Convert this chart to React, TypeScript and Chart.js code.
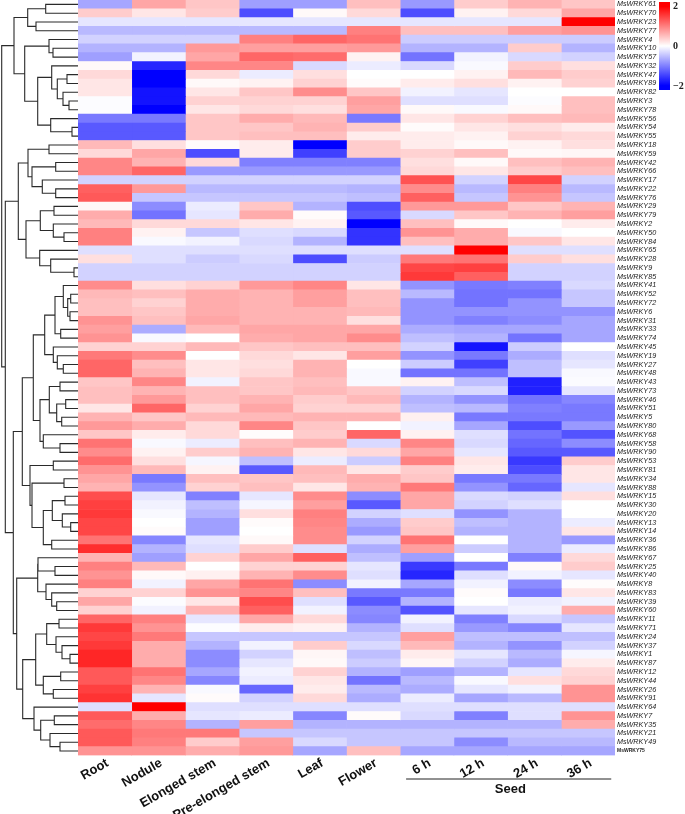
import React, { useEffect, useRef } from "react";
import { Chart, registerables } from "chart.js";

Chart.register(...registerables);

const columnLabels = ["Root", "Nodule", "Elonged stem", "Pre-elonged stem", "Leaf", "Flower", "6 h", "12 h", "24 h", "36 h"];
const groupLabel = "Seed";

const geneNumbers = [61, 70, 23, 77, 4, 10, 57, 32, 47, 89, 82, 3, 78, 56, 54, 55, 18, 59, 42, 66, 17, 22, 76, 29, 79, 2, 50, 84, 65, 28, 9, 85, 41, 52, 72, 6, 31, 33, 74, 45, 19, 27, 48, 43, 73, 46, 51, 5, 80, 68, 58, 90, 53, 81, 34, 88, 15, 30, 20, 13, 14, 36, 86, 67, 25, 40, 8, 83, 39, 60, 11, 71, 24, 37, 1, 87, 12, 44, 26, 91, 64, 7, 35, 21, 49, 75];
const rowLabels = geneNumbers.map((n) => "MsWRKY" + n);

// expression z-scores, one row per gene, in columnLabels order
const expression: number[][] = [
  [-0.7, 0.7, 0.45, -0.75, -0.75, 0.5, -0.8, 0.4, 0.6, 0.45],
  [0.4, 0.2, 0.4, -1.4, 0.05, 0.3, -1.4, 0.1, 0.3, 0.7],
  [-0.2, -0.2, -0.2, -0.2, -0.2, -0.2, -0.2, -0.2, -0.2, 2],
  [-0.55, -0.55, -0.55, -0.55, -0.55, 1.0, 0.5, 0.5, 0.75, 0.85],
  [-0.35, -0.35, -0.35, 1.0, 1.2, 1.1, -0.4, -0.4, -0.4, -0.4],
  [-0.6, -0.6, 0.8, 0.75, 0.75, 0.8, -0.6, -0.6, 0.4, -0.6],
  [-0.75, -0.1, 0.7, 1.2, 1.15, 0.1, -1.1, -0.1, -0.3, -0.35],
  [0.05, -1.7, 0.95, 0.95, -0.3, -0.15, -0.3, -0.05, 0.4, 0.25],
  [0.3, -2, 0.3, -0.15, 0.25, 0, 0, 0.1, 0.55, 0.4],
  [0.2, -2, 0.05, 0.1, 0.35, 0.03, 0.15, 0.25, 0.1, 0.35],
  [0.2, -1.85, 0.2, 0.45, 0.9, 0.45, -0.1, -0.2, 0, 0],
  [-0.02, -1.85, 0.35, 0.35, 0.35, 0.75, -0.25, -0.25, -0.02, 0.5],
  [-0.02, -2, 0.2, 0.3, 0.25, 0.7, 0.05, -0.05, 0.05, 0.5],
  [-1.05, -1.05, 0.45, 0.65, 0.55, -1.05, 0.2, 0.35, 0.5, 0.55],
  [-1.3, -1.3, 0.45, 0.45, 0.6, 0.4, 0.03, 0.2, 0.25, 0.15],
  [-1.3, -1.3, 0.45, 0.5, 0.5, 0.15, 0.15, 0.1, 0.35, 0.3],
  [0.55, 0.25, 0.03, 0.15, -2, 0.4, 0.15, 0.05, 0.1, 0.25],
  [0.3, 0.7, -1.4, 0.15, -1.5, 0.4, 0.35, 0.5, 0.05, 0.07],
  [0.95, 0.6, 0.3, -1.0, -1.0, -1.0, 0.25, 0.05, 0.5, 0.6],
  [0.95, 1.2, -0.8, -0.8, -0.8, -0.8, 0.3, 0.2, 0.4, 0.5],
  [-0.35, -0.35, -0.35, -0.35, -0.35, -0.35, 1.35, -0.35, 1.45, -0.35],
  [1.25, 0.8, -0.55, -0.55, -0.55, -0.6, 0.9, -0.55, 1.0, -0.55],
  [1.3, -0.45, -0.45, -0.45, -0.45, -0.5, 1.25, -0.45, 0.85, -0.45],
  [0.07, -0.9, -0.15, 0.45, -0.6, -1.4, 0.8, 0.8, 0.45, 0.6],
  [0.65, -1.1, -0.2, 0.65, 0.03, -1.3, -0.3, 0.45, 0.6, 0.75],
  [0.55, 0.3, 0.3, 0.2, 0.1, -2, 0.5, 0.05, 0, 0.15],
  [1.0, 0.1, -0.45, -0.25, -0.3, -1.6, 0.85, 0.65, -0.05, 0],
  [1.0, -0.05, -0.1, -0.3, -0.6, -1.6, 0.5, 0.65, 0.45, 0.2],
  [-0.25, -0.25, -0.25, -0.25, -0.25, -0.25, -0.25, 2, -0.25, -0.25],
  [0.25, -0.25, -0.4, -0.3, -1.4, -0.4, 1.05, 1.1, 0.4, 0.25],
  [-0.35, -0.35, -0.35, -0.35, -0.35, -0.35, 1.45, 1.5, -0.35, -0.35],
  [-0.35, -0.35, -0.35, -0.35, -0.35, -0.35, 1.55, 1.25, -0.35, -0.35],
  [0.9, 0.25, 0.35, 0.8, 0.95, 0.2, -0.85, -1.05, -1.0, -0.3],
  [0.55, 0.5, 0.65, 0.6, 0.75, 0.5, -0.55, -1.1, -1.1, -0.45],
  [0.5, 0.35, 0.65, 0.6, 0.75, 0.5, -0.85, -1.1, -0.85, -0.45],
  [0.5, 0.45, 0.65, 0.6, 0.6, 0.55, -0.85, -0.85, -0.85, -0.85],
  [0.85, 0.5, 0.7, 0.6, 0.6, 0.25, -0.85, -1.0, -0.9, -0.7],
  [0.75, -0.65, 0.55, 0.7, 0.7, 0.7, -0.65, -0.7, -0.7, -0.7],
  [0.85, -0.05, 0, 0.65, 0.7, 0.9, -0.5, -0.6, -1.1, -0.7],
  [0.35, 0.35, 0.55, 0.45, 0.5, 0.5, -0.35, -1.85, -0.4, 0],
  [1.05, 0.9, 0, 0.3, 0.2, 0.75, -0.85, -1.05, -0.65, -0.25],
  [1.2, 0.5, 0.2, 0.25, 0.6, 0, -0.4, -1.5, -0.5, -0.2],
  [1.2, 0.6, 0.2, 0.3, 0.6, -0.05, -1.1, -1.1, -0.5, -0.05],
  [0.45, 0.95, -0.1, 0.45, 0.5, -0.05, 0.1, -0.5, -1.75, -0.03],
  [0.5, 0.6, 0.5, 0.45, 0.55, 0.45, -0.35, -0.3, -1.75, -0.2],
  [0.5, 0.8, 0.5, 0.6, 0.4, 0.55, -0.6, -0.85, -1.1, -0.95],
  [0.2, 1.2, 0.35, 0.7, 0.35, 0.35, -0.5, -0.55, -1.0, -1.05],
  [0.6, 0.45, 0.55, 0.55, 0.6, 0.6, 0.12, -1.05, -1.05, -1.05],
  [0.8, 0.65, 0.3, 0.95, 0.45, 0, -0.1, -0.7, -1.4, -0.8],
  [0.45, 0.15, 0.3, 0.02, 0.4, 1.2, 0.1, -0.25, -1.1, -1.35],
  [1.1, -0.05, -0.15, 0.5, 0.6, -0.3, 0.95, -0.3, -1.2, -0.9],
  [0.9, 0.1, 0.4, 0.6, 0.2, 0.3, 0.7, -0.2, -1.3, -1.3],
  [1.15, 0.25, -0.07, -0.5, -0.15, -0.4, 1.0, 0.2, -1.55, 0.4],
  [0.85, 0.55, 0.1, -1.3, 0.55, 0.2, 0.4, 0.15, -1.4, 0.2],
  [0.7, -1.05, 0.5, 0.45, 0.5, 0.65, 0.45, -1.05, -1.05, 0.2],
  [0.6, -0.85, 0.35, 0.5, 0.2, 0.6, 1.05, -0.85, -1.2, -0.2],
  [1.4, -0.2, -1.0, -0.2, 0.9, -0.9, 0.7, -0.3, -0.35, 0.25],
  [1.5, -0.1, -0.5, -0.07, 0.75, -1.3, 0.7, -0.35, -0.25, 0],
  [1.55, -0.05, -0.6, 0.25, 1.0, -0.35, -0.25, -0.85, -0.6, 0],
  [1.45, 0, -0.75, 0.03, 0.95, -0.65, 0.4, -0.5, -0.6, -0.15],
  [1.45, 0.03, -0.75, 0, 0.9, -0.8, 0.45, -0.6, -0.6, 0.2],
  [1.1, -0.95, -0.2, 0.05, 0.9, -0.35, 1.1, 0, -0.6, -0.8],
  [1.65, -0.6, -0.25, 0.4, -0.25, -0.65, 0.75, -0.4, -0.6, -0.15],
  [0.6, -0.75, 0.35, 0.7, 1.25, -0.5, -0.75, 0, -1.0, 0.3],
  [1.0, 0.55, 0, 0.35, 0.35, -0.2, -1.55, -1.05, 0.05, 0.4],
  [0.85, 0.05, 0.12, 0.6, 0.9, -0.25, -1.7, -0.25, -0.1, -0.2],
  [1.0, -0.1, 0.7, 1.1, -0.9, -0.1, -0.7, -0.1, -0.9, 0.02],
  [0.35, 0.35, 0.85, 0.95, 0.5, -1.05, -1.05, 0.03, -1.05, 0.2],
  [0.7, -0.02, 0.2, 1.4, -0.25, -1.3, -0.6, 0, -0.15, -0.1],
  [0.35, -0.1, 0.6, 1.25, -0.1, -0.9, -1.35, -0.2, -0.1, 0.65],
  [1.2, 1.0, -0.2, 0.7, 0.3, -0.95, -0.1, -1.0, -0.3, -0.45],
  [1.55, 0.85, -0.02, 0.15, 0.1, -0.6, -0.25, -0.8, -0.95, -0.2],
  [1.45, 1.05, -0.45, -0.45, -0.45, -0.45, 0.75, -0.5, -0.5, -0.5],
  [1.55, 0.65, -0.6, -0.1, 0.4, -0.3, 0.55, -0.6, -0.85, -0.35],
  [1.7, 0.65, -0.9, -0.35, 0.07, -0.5, 0.15, -0.2, -0.55, -0.07],
  [1.7, 0.65, -0.9, -0.2, 0.05, -0.4, 0.07, -0.35, -0.65, 0.15],
  [1.3, 1.1, -0.7, -0.1, 0.35, -0.6, -0.75, -0.6, -0.2, 0.3],
  [1.3, 0.95, -0.95, -0.15, 0.2, -1.1, -0.55, -0.05, 0.25, 0.35],
  [1.5, 0.6, -0.05, -1.2, 0.15, -0.55, -0.65, -0.2, -0.1, 0.85],
  [1.6, -0.2, 0.03, -0.35, 0.3, -0.65, -0.15, -0.7, -0.55, 0.85],
  [-0.25, 2, -0.25, -0.25, -0.25, -0.25, -0.25, -0.25, -0.25, -0.25],
  [1.3, 0.65, -0.2, -0.15, -0.95, 0.03, -0.3, -1.0, -0.25, 0.85],
  [1.15, 0.95, -0.6, 0.75, -0.6, -0.6, -0.6, -0.6, -0.6, 0.65],
  [1.3, 1.05, 1.05, -0.45, -0.45, -0.45, -0.45, -0.45, -0.45, -0.45],
  [1.3, 1.0, 0.4, 0.75, -0.3, -0.45, -0.45, -0.9, -0.55, -0.55],
  [0.85, 0.85, 0.65, 0.8, -0.7, 0.5, -0.7, -0.7, -0.7, -0.7],
];

// dendrogram: [merge position, left child, right child]; a plain number is a row (1-based)
type Node = number | [number, Node, Node];
const topClade: Node = [14,
  [27.7, [45.7, 1, 2], [36, 3, 4]],
  [24.7,
    [49, 5, [53, 6, 7]],
    [37.7,
      [51.7, 8, [57.3, [67, 9, 10], [63, 11, [69, 12, 13]]]],
      [50.7, 14, [72, 15, 16]]]]];
const middleClade: Node = [18.3,
  [28, [49, 17, 18], [32, [55.7, 19, 20], [42.3, 21, [55.7, 22, 23]]]],
  [26,
    [40.3, [54, 24, 25], [53.3, 26, [64, 27, 28]]],
    [39.7, 29, [50.7, 30, [74, 31, 32]]]]];
const lowerClade: Node = [22.3,
  [33.3,
    [44.7,
      [55, [63.3, 33, [67.7, [70.7, 34, 35], [70, 36, 37]]], [60.7, 38, 39]],
      [53.3, 40, [57.3, 41, [63.3, 42, 43]]]],
    [40,
      [49.3, [60, 44, 45], [56.7, [65.7, 46, 47], [61.7, 48, 49]]],
      [43.3, 50, [60, 51, 52]]]],
  [30,
    [53.3, 53, 54],
    [32, [64, 55, 56],
      [43.3, [52.3, [65, 57, 58], [62.3, 59, [70.7, 60, 61]]], [51.7, 62, 63]]]]];
const bottomClade: Node = [16.7,
  [37.7, [38, 64, [55, 65, 66]], [46, 67, [51.7, 68, [56.7, 69, 70]]]],
  [22.7,
    [35.7,
      [46.7, [59, 71, 72], [56, 73, [62, 74, [70, 75, 76]]]],
      [43.3, [60.7, 77, 78], [53.3, 79, 80]]],
    [34, 81, [40.7, [54.3, 82, 83], [50, 84, [60, 85, 86]]]]]];
const dendrogram: Node = [1.7, topClade, [5.3, middleClade, [13.3, lowerClade, bottomClade]]];
const leafPosition = 78;

const colourOf = (v: number) => {
  const t = Math.max(-1, Math.min(1, v / 2));
  const c = Math.round(255 * (1 - Math.abs(t)));
  return t >= 0 ? `rgb(255,${c},${c})` : `rgb(${c},${c},255)`;
};

function dendrogramPoints() {
  const pts: ({ x: number | null; y: number | null })[] = [];
  const walk = (n: Node): { x: number; y: number } => {
    if (typeof n === "number") return { x: leafPosition, y: n - 0.5 };
    const a = walk(n[1]);
    const b = walk(n[2]);
    pts.push({ x: a.x, y: a.y }, { x: n[0], y: a.y }, { x: n[0], y: b.y }, { x: b.x, y: b.y }, { x: null, y: null });
    return { x: n[0], y: (a.y + b.y) / 2 };
  };
  walk(dendrogram);
  return pts;
}

const softEdge = "blur(0.4px)";
const narrowFamily = "'Liberation Sans Narrow', 'Liberation Sans'";

export default function App() {
  const treeRef = useRef<HTMLCanvasElement>(null);
  const mainRef = useRef<HTMLCanvasElement>(null);
  const barRef = useRef<HTMLCanvasElement>(null);

  useEffect(() => {
    const tree = new Chart(treeRef.current!, {
      type: "scatter",
      data: {
        datasets: [
          {
            data: dendrogramPoints(),
            showLine: true,
            spanGaps: false,
            pointRadius: 0,
            borderColor: "#2a2a2a",
            borderWidth: 1.1,
            tension: 0,
            clip: false,
          },
        ] as any,
      },
      options: {
        animation: false,
        responsive: false,
        layout: { padding: { bottom: 58.6 } },
        plugins: { legend: { display: false }, tooltip: { enabled: false } },
        scales: {
          x: { type: "linear", display: false, min: 0, max: leafPosition },
          y: { type: "linear", display: false, min: 0, max: rowLabels.length, reverse: true },
        },
      } as any,
    } as any);

    const heatDatasets: any[] = columnLabels.map((c, ci) => ({
      label: c,
      stack: "cells",
      data: rowLabels.map(() => 1),
      backgroundColor: expression.map((row) => colourOf(row[ci])),
      barPercentage: 1,
      categoryPercentage: 1,
      borderWidth: 0,
    }));
    const seedPlugin = {
      id: "seedGroup",
      afterDraw(chart: any) {
        const { ctx, scales } = chart;
        const x0 = scales.x.getPixelForValue(6.11);
        const x1 = scales.x.getPixelForValue(9.93);
        ctx.save();
        ctx.strokeStyle = "#222";
        ctx.lineWidth = 1;
        ctx.beginPath();
        ctx.moveTo(x0, 779);
        ctx.lineTo(x1, 779);
        ctx.stroke();
        ctx.fillStyle = "#111";
        ctx.font = "bold 13px 'Liberation Sans'";
        ctx.textAlign = "center";
        ctx.textBaseline = "middle";
        ctx.fillText(groupLabel, scales.x.getPixelForValue(8.05), 789);
        ctx.restore();
      },
    };
    const main = new Chart(mainRef.current!, {
      type: "bar",
      data: { labels: rowLabels, datasets: heatDatasets },
      plugins: [seedPlugin],
      options: {
        indexAxis: "y",
        animation: false,
        responsive: false,
        layout: { padding: 0 },
        plugins: { legend: { display: false }, tooltip: { enabled: false } },
        scales: {
          x: {
            type: "linear",
            position: "bottom",
            stacked: true,
            min: 0,
            max: 10,
            grid: { display: false, drawTicks: false },
            border: { display: false },
            afterBuildTicks: (s: any) => {
              s.ticks = columnLabels.map((_, i) => ({ value: i + 0.55 }));
            },
            afterFit: (s: any) => {
              s.height = 58.6;
              s.paddingLeft = 0;
              s.paddingRight = 0;
            },
            ticks: {
              autoSkip: false,
              minRotation: 30,
              maxRotation: 30,
              padding: 0,
              color: "#111",
              font: { family: "'Liberation Sans'", size: 13, weight: "bold" },
              callback: (_: any, i: number) => columnLabels[i],
            },
          },
          y: {
            type: "category",
            position: "right",
            labels: rowLabels,
            offset: true,
            stacked: true,
            grid: { display: false, drawTicks: false, offset: true },
            border: { display: false },
            afterFit: (s: any) => {
              s.width = 70;
              s.paddingTop = 0;
              s.paddingBottom = 0;
            },
            ticks: {
              autoSkip: false,
              padding: 2,
              color: "#222",
              font: (c: any) =>
                c.index === rowLabels.length - 1
                  ? { family: narrowFamily, size: 5, weight: "bold" }
                  : { family: narrowFamily, size: 7.2, style: "italic" },
            },
          },
        },
      } as any,
    } as any);

    const bar = new Chart(barRef.current!, {
      type: "bar",
      data: {
        labels: [""],
        datasets: [
          {
            data: [[-2.2, 2.2]],
            barPercentage: 1,
            categoryPercentage: 1,
            borderWidth: 0,
            backgroundColor: (c: any) => {
              const { ctx, chartArea } = c.chart;
              if (!chartArea) return "#fff";
              const g = ctx.createLinearGradient(0, chartArea.bottom, 0, chartArea.top);
              g.addColorStop(0, colourOf(-2));
              g.addColorStop(0.05, colourOf(-2));
              g.addColorStop(0.5, colourOf(0));
              g.addColorStop(0.95, colourOf(2));
              g.addColorStop(1, colourOf(2));
              return g;
            },
          },
        ] as any,
      },
      options: {
        animation: false,
        responsive: false,
        plugins: { legend: { display: false }, tooltip: { enabled: false } },
        scales: {
          x: { display: false },
          y: {
            position: "right",
            min: -2.2,
            max: 2.2,
            grid: { display: false, drawTicks: false },
            border: { display: false },
            afterBuildTicks: (s: any) => {
              s.ticks = [{ value: -2 }, { value: 0 }, { value: 2 }];
            },
            afterFit: (s: any) => {
              s.width = 15;
              s.paddingTop = 0;
              s.paddingBottom = 0;
            },
            ticks: {
              padding: 3,
              color: "#222",
              font: { family: "'Liberation Serif'", size: 10, weight: "bold" },
              callback: (v: any) => String(v).replace("-", "\u2212"),
            },
          },
        },
      } as any,
    } as any);

    return () => {
      tree.destroy();
      main.destroy();
      bar.destroy();
    };
  }, []);

  return (
    <div style={{ position: "absolute", left: 0, top: 0, width: 685, height: 814 }}>
      <canvas ref={treeRef} width={78} height={814} style={{ position: "absolute", left: 0, top: 0, filter: softEdge }} />
      <canvas ref={mainRef} width={607} height={814} style={{ position: "absolute", left: 78, top: 0, filter: softEdge }} />
      <canvas ref={barRef} width={26} height={88} style={{ position: "absolute", left: 659, top: 2, filter: softEdge }} />
    </div>
  );
}
